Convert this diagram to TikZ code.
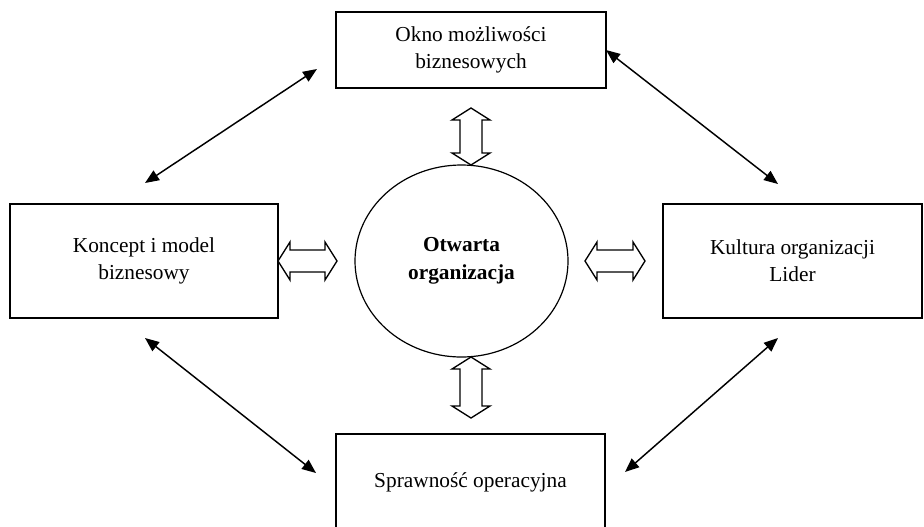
\documentclass[tikz,border=0pt]{standalone}
\usepackage{fontspec}
\setmainfont{Liberation Serif}
\usetikzlibrary{shapes.geometric,arrows.meta}
\newcommand\hollowarr[3]{% center coordinate, angle, half length (px)
  \begin{scope}[shift={(#1)},rotate=#2]
    \draw[hollow] (-#3,0) -- (-#3+12,19) -- (-#3+12,11) -- (#3-12,11) -- (#3-12,19) -- (#3,0)
      -- (#3-12,-19) -- (#3-12,-11) -- (-#3+12,-11) -- (-#3+12,-19) -- cycle;
  \end{scope}}
\begin{document}
\begin{tikzpicture}[x=0.75pt,y=-0.75pt,
  box/.style={draw,line width=1.1pt,rectangle,align=center,inner sep=0pt,
    font=\fontsize{16}{20}\selectfont},
  hollow/.style={line width=1pt,fill=white,line join=miter},
  link/.style={line width=1.1pt,{Triangle[length=10.5pt,width=8.5pt]}-{Triangle[length=10.5pt,width=8.5pt]}}]
\useasboundingbox (0,0) rectangle (924,526);
\clip (0,0) rectangle (924,526);

\node[box,minimum width=270*0.75pt,minimum height=76*0.75pt] (top) at (471,50)
  {Okno możliwości\\biznesowych};
\node[box,minimum width=268*0.75pt,minimum height=114*0.75pt] (left) at (144,261)
  {Koncept i model\\biznesowy};
\node[box,minimum width=259*0.75pt,minimum height=114*0.75pt] (right) at (792.5,261)
  {Kultura organizacji\\Lider};
\node[box,minimum width=269*0.75pt,minimum height=96*0.75pt] (bottom) at (470.5,482)
  {Sprawność operacyjna};
\node[draw,ellipse,line width=0.9pt,inner sep=0pt,minimum width=213*0.75pt,
  minimum height=192*0.75pt,align=center,font=\fontsize{16}{21}\selectfont\bfseries]
  (org) at (461.5,261) {Otwarta\\organizacja};

% hollow double arrows
\coordinate (hT) at (471,136.5);
\coordinate (hB) at (471,387.5);
\coordinate (hL) at (307.5,261);
\coordinate (hR) at (615,261);
\hollowarr{hT}{90}{28.5}
\hollowarr{hB}{90}{30.5}
\hollowarr{hL}{0}{29.5}
\hollowarr{hR}{0}{30}

% diagonal double arrows
\coordinate (a1) at (145,183);
\coordinate (a2) at (317,69);
\coordinate (b1) at (606,50);
\coordinate (b2) at (778,184);
\coordinate (c1) at (145,338);
\coordinate (c2) at (316,473);
\coordinate (d1) at (778,338);
\coordinate (d2) at (625,472);
\draw[link] (a1) -- (a2);
\draw[link] (b1) -- (b2);
\draw[link] (c1) -- (c2);
\draw[link] (d1) -- (d2);
\end{tikzpicture}
\end{document}
